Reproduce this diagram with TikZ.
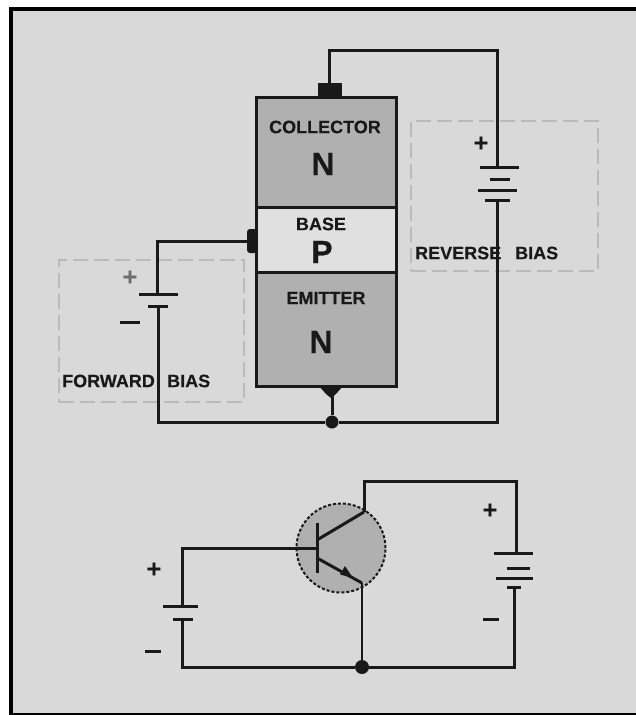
\documentclass[tikz,border=0pt]{standalone}
\usepackage{fontspec}
\setmainfont[BoldFeatures={FakeBold=0.25}]{Liberation Sans}
\usetikzlibrary{arrows.meta}
\definecolor{bg}{gray}{0.85}
\definecolor{semi}{gray}{0.69}
\definecolor{light}{gray}{0.88}
\definecolor{ink}{gray}{0.1}
\definecolor{dash}{gray}{0.73}
\tikzset{
  wire/.style={draw=ink,line width=3pt},
  thinwire/.style={draw=ink,line width=1.8pt},
  plate/.style={draw=ink,line width=3pt},
  biasbox/.style={draw=dash,line width=2.4pt,dash pattern=on 15pt off 6pt,outer sep=0pt},
  lab/.style={inner sep=0pt,font=\bfseries\fontsize{18}{18}\selectfont,text=ink},
  big/.style={inner sep=0pt,font=\bfseries\fontsize{32}{32}\selectfont,text=ink},
  sign/.style={inner sep=0pt,font=\bfseries\fontsize{25}{25}\selectfont,text=ink},
  region/.style={draw=ink,line width=3pt,minimum width=140pt,inner sep=0pt,outer sep=0pt,anchor=north west},
  joint/.style={circle,fill=ink,inner sep=0pt,minimum size=13pt},
}
\begin{document}
\begin{tikzpicture}[x=1pt,y=-1pt]
\useasboundingbox (0,0) rectangle (636,715);
\fill[white] (0,0) rectangle (636,715);
\fill[black] (9,7) rectangle (636,715);
\fill[bg] (13,11) rectangle (636,713);
% bias boxes
\node[biasbox,minimum width=187pt,minimum height=150pt,inner sep=0pt,anchor=north west] (rev) at (411,121) {};
\node[biasbox,minimum width=185pt,minimum height=142pt,inner sep=0pt,anchor=north west] (fwd) at (59,260) {};
% device
\node[region,fill=semi,minimum height=110pt] (coll) at (256,97) {};
\node[region,fill=light,minimum height=65pt] (base) at (256,207) {};
\node[region,fill=semi,minimum height=114pt] (emit) at (256,272) {};
\node[lab] (tcoll) at (325,127) {COLLECTOR};
\node[big] (ncoll) at (323,164) {N};
\node[lab] (tbase) at (321,224) {BASE};
\node[big] (pbase) at (322,252) {P};
\node[lab] (temit) at (326,298) {EMITTER};
\node[big] (nemit) at (321,342) {N};
% contacts
\node[fill=ink,inner sep=0pt,minimum width=24pt,minimum height=14pt] (ctop) at (330,90) {};
\node[fill=ink,rounded corners=3pt,inner sep=0pt,minimum width=10pt,minimum height=24pt] (cleft) at (252,241) {};
\fill[ink] (319,386) -- (343,386) -- (336,394) -- (331,398) -- (326,394) -- cycle;
\coordinate (cbot) at (332,396);
\node[joint] (j1) at (332,422) {};
% upper right battery
\coordinate (t1) at (329,50);
\coordinate (t2) at (497,50);
\coordinate (rp1) at (497,167);
\coordinate (rp4) at (497,200);
\coordinate (b2) at (497,422);
\draw[wire] (ctop.north -| t1) -- (t1) -- (t2) -- (rp1);
\draw[plate] (480,167) -- (519,167);
\draw[plate] (490,179) -- (510,179);
\draw[plate] (478,190) -- (517,190);
\draw[plate] (485,200) -- (510,200);
\draw[wire] (rp4) -- (b2) -- (j1);
\node[sign] (pr) at (481,144) {+};
% upper left battery
\coordinate (l1) at (157,241);
\coordinate (lp1) at (157,294);
\coordinate (lp2) at (158,306);
\coordinate (b1) at (158,422);
\draw[wire] (cleft.west) -- (l1) -- (lp1);
\draw[plate] (139,294) -- (178,294);
\draw[plate] (148,306) -- (168,306);
\draw[wire] (lp2) -- (b1) -- (j1);
\draw[wire] (cbot) -- (j1);
\node[sign,text=gray!85!black] (pl) at (130,278) {+};
\draw[draw=ink,line width=3pt] (120,322) -- (140,322);
% labels over wires
\node[lab,anchor=west] (trev) at (415,253) {REVERSE};
\node[lab,anchor=west] (tbias) at (515,253) {BIAS};
\node[lab,anchor=west] (tfwd) at (62,381) {FORWARD};
\node[lab,anchor=west] (tbf) at (167,381) {BIAS};
% schematic transistor
\node[circle,draw=ink,fill=semi,line width=2pt,densely dashed,minimum size=89pt,inner sep=0pt] (q) at (341,548) {};
\coordinate (qc) at (364,512);
\coordinate (qe) at (362,583);
\coordinate (qb) at (317,548);
\coordinate (qc0) at (317,540);
\coordinate (qe0) at (317,558);
\draw[draw=ink,line width=3pt] (317,523) -- (317,573);
\draw[wire] (qc0) -- (qc);
\draw[wire] (qe0) -- (qe);
\fill[ink] (353,578) -- (340,574.5) -- (345,566) -- cycle;
% lower left battery
\coordinate (sl) at (182,548);
\coordinate (slp1) at (182,606);
\coordinate (slp2) at (182,619);
\coordinate (sb1) at (182,667);
\coordinate (sb2) at (514,667);
\node[joint,minimum size=14pt] (j2) at (362,667) {};
\draw[wire] (qb) -- (sl) -- (slp1);
\draw[plate] (163,606) -- (198,606);
\draw[plate] (173,619) -- (193,619);
\draw[wire] (slp2) -- (sb1) -- (j2);
% lower right battery
\coordinate (st1) at (364,481);
\coordinate (st2) at (516,481);
\coordinate (srp1) at (516,553);
\coordinate (srp4) at (514,587);
\draw[wire] (qc) -- (st1) -- (st2) -- (srp1);
\draw[plate] (494,553) -- (533,553);
\draw[plate] (507,568) -- (530,568);
\draw[plate] (496,578) -- (533,578);
\draw[plate] (507,587) -- (521,587);
\draw[wire] (srp4) -- (sb2) -- (j2);
\draw[thinwire] (qe) -- (j2);
% signs
\node[sign] (ps1) at (154,570) {+};
\draw[draw=ink,line width=3pt] (145,651) -- (161,651);
\node[sign] (ps2) at (490,511) {+};
\draw[draw=ink,line width=3pt] (483,619) -- (499,619);
\end{tikzpicture}
\end{document}
